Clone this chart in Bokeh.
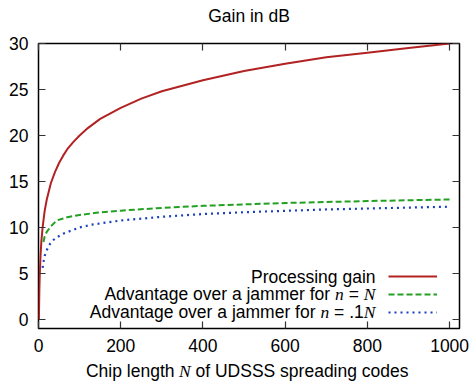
from bokeh.plotting import figure
from bokeh.models import Label, FixedTicker, LinearAxis, Legend, LegendItem, Range1d
from bokeh.embed import file_html
from bokeh.resources import INLINE

# ---- data ----
pg_n = [1, 2, 3, 5, 7, 10, 15, 20, 30, 40, 50, 60, 70, 85, 100, 120, 150, 200, 250, 300, 350,
        400, 500, 600, 700, 800, 900, 1000]
pg_db = [0, 3.0, 4.8, 7.0, 8.5, 10.0, 11.8, 13.0, 14.8, 16.0, 17.0, 17.8, 18.5, 19.3, 20.0,
         20.8, 21.8, 23.0, 24.0, 24.8, 25.4, 26.0, 27.0, 27.8, 28.5, 29.0, 29.5, 30.0]

advN_n = [12, 15, 20, 30, 44, 70, 100, 140, 200, 300, 400, 500, 600, 700, 800, 900, 1000]
advN_db = [8.4, 9.0, 9.5, 10.1, 10.75, 11.1, 11.35, 11.58, 11.82, 12.12, 12.34, 12.5, 12.65,
           12.76, 12.86, 12.95, 13.03]

adv01_n = [10, 12, 15, 20, 28, 40, 60, 77, 100, 130, 200, 300, 400, 500, 600, 700, 800, 900, 1000]
adv01_db = [5.6, 6.2, 6.9, 7.5, 8.2, 8.8, 9.3, 9.6, 10.0, 10.3, 10.75, 11.15, 11.45, 11.65,
            11.8, 11.95, 12.05, 12.15, 12.25]

x_ticks = [0, 200, 400, 600, 800, 1000]
y_ticks = [0, 5, 10, 15, 20, 25, 30]

title_text = "Gain in dB"
legend_labels = ["Processing gain", "Advantage over a jammer for", "Advantage over a jammer for"]

SANS = "Liberation Sans"
SERIF = "Liberation Serif"
FS = "17.5px"

XMIN, XMAX = 0, 1024
YMIN, YMAX = -1, 30
FL, FT, FW, FH = 38, 43, 421, 285  # frame left/top/width/height in page px

p = figure(frame_width=FW, frame_height=FH, output_backend="svg", toolbar_location=None,
           x_range=Range1d(XMIN, XMAX), y_range=Range1d(YMIN, YMAX),
           min_border_left=FL, min_border_right=11, min_border_top=FT, min_border_bottom=57,
           x_axis_type=None, y_axis_type=None)
p.xgrid.visible = False
p.ygrid.visible = False
p.outline_line_color = "black"
p.outline_line_width = 1.5
p.background_fill_color = "white"
p.border_fill_color = "white"


def style_axis(ax, show_labels):
    ax.axis_line_color = None
    ax.major_tick_in = 7
    ax.major_tick_out = 0
    ax.major_tick_line_color = "#333333"
    ax.major_tick_line_width = 1.2
    ax.minor_tick_line_color = None
    if show_labels:
        ax.major_label_text_font = SANS
        ax.major_label_text_font_size = FS
        ax.major_label_text_color = "black"
    else:
        ax.major_label_text_alpha = 0
        ax.major_label_text_font_size = "1px"
        ax.major_label_standoff = 0


xb = LinearAxis(ticker=FixedTicker(ticks=x_ticks))
style_axis(xb, True)
xb.major_label_standoff = 10
p.add_layout(xb, "below")
xt = LinearAxis(ticker=FixedTicker(ticks=x_ticks))
style_axis(xt, False)
p.add_layout(xt, "above")
yl = LinearAxis(ticker=FixedTicker(ticks=y_ticks))
style_axis(yl, True)
yl.major_label_standoff = 10
p.add_layout(yl, "left")
yr = LinearAxis(ticker=FixedTicker(ticks=y_ticks))
style_axis(yr, False)
p.add_layout(yr, "right")

r1 = p.line(pg_n, pg_db, line_color="#b22222", line_width=2)
r2 = p.line(advN_n, advN_db, line_color="#22a022", line_width=2, line_dash="6 3")
r3 = p.line(adv01_n, adv01_db, line_color="#1a3fc0", line_width=2.2, line_dash="2 4")

legend = Legend(items=[LegendItem(label=" ", renderers=[r]) for r in (r1, r2, r3)],
                location=(350, 7), glyph_width=49, glyph_height=18, label_height=18,
                label_width=1, spacing=0, padding=0, margin=0, label_standoff=0,
                label_text_font_size="1px", border_line_color=None,
                background_fill_alpha=0)
p.add_layout(legend)


# page-pixel helpers for placing text
def dx(wx):
    return XMIN + (wx - FL) * (XMAX - XMIN) / FW


def dy(wy):
    return YMAX - (wy - FT) * (YMAX - YMIN) / FH


def lab(text, wx, wy, align, font=SANS, style="normal", size=FS, place=None):
    l = Label(x=dx(wx), y=dy(wy), text=text, text_font=font, text_font_style=style,
              text_font_size=size, text_align=align, text_baseline="middle",
              text_color="black")
    if place:
        p.add_layout(l, place)
    else:
        p.add_layout(l)


# title
lab(title_text, 248.5, 15.5, "center", place="above")
# x-axis label with italic N
lab("Chip length", 174, 370.5, "right", place="below")
lab("N", 178.5, 370.5, "left", SERIF, "italic", place="below")
lab("of UDSSS spreading codes", 195, 370.5, "left", place="below")
# legend texts
lab(legend_labels[0], 375, 276.5, "right")
lab(legend_labels[1], 329.6, 293.5, "right")
lab("n", 334.5, 293.5, "left", SERIF, "italic")
lab("=", 348.2, 293.5, "left")
lab("N", 363.3, 293.5, "left", SERIF, "italic")
lab(legend_labels[2], 315, 311, "right")
lab("n", 320, 311, "left", SERIF, "italic")
lab("=", 333.6, 311, "left")
lab(".1", 348.7, 311, "left")
lab("N", 363.3, 311, "left", SERIF, "italic")

open("out.html", "w").write(file_html(p, INLINE))
